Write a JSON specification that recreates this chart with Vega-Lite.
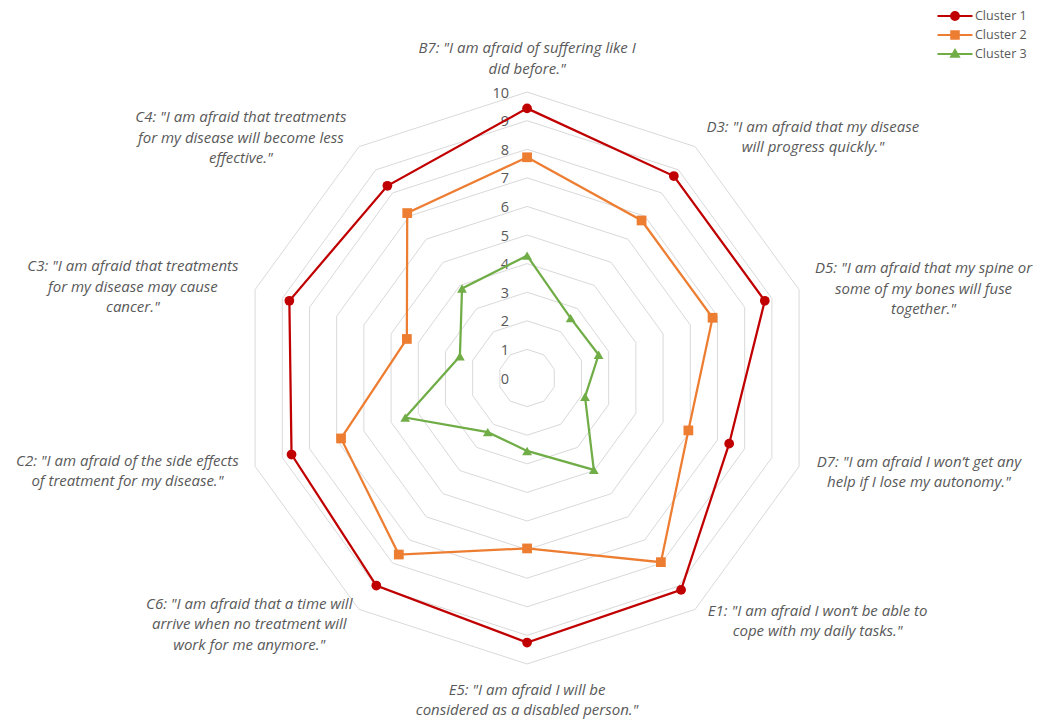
{
  "$schema": "https://vega.github.io/schema/vega-lite/v6.json",
  "width": 1037,
  "height": 720,
  "autosize": {"type": "none"},
  "padding": 0,
  "background": "white",
  "config": {"view": {"stroke": null}, "text": {"font": "Open Sans", "fontStyle": "italic", "fontSize": 15, "lineHeight": 20.5, "color": "#595959", "align": "center", "baseline": "middle"}},
  "datasets": {
    "scores": [
      {"cluster": "Cluster 1", "item": "B7", "k": 0, "value": 9.43},
      {"cluster": "Cluster 1", "item": "D3", "k": 1, "value": 8.73},
      {"cluster": "Cluster 1", "item": "D5", "k": 2, "value": 8.74},
      {"cluster": "Cluster 1", "item": "D7", "k": 3, "value": 7.43},
      {"cluster": "Cluster 1", "item": "E1", "k": 4, "value": 9.16},
      {"cluster": "Cluster 1", "item": "E5", "k": 5, "value": 9.25},
      {"cluster": "Cluster 1", "item": "C6", "k": 6, "value": 8.97},
      {"cluster": "Cluster 1", "item": "C2", "k": 7, "value": 8.66},
      {"cluster": "Cluster 1", "item": "C3", "k": 8, "value": 8.74},
      {"cluster": "Cluster 1", "item": "C4", "k": 9, "value": 8.31},
      {"cluster": "Cluster 2", "item": "B7", "k": 0, "value": 7.72},
      {"cluster": "Cluster 2", "item": "D3", "k": 1, "value": 6.81},
      {"cluster": "Cluster 2", "item": "D5", "k": 2, "value": 6.82},
      {"cluster": "Cluster 2", "item": "D7", "k": 3, "value": 5.93},
      {"cluster": "Cluster 2", "item": "E1", "k": 4, "value": 7.96},
      {"cluster": "Cluster 2", "item": "E5", "k": 5, "value": 5.96},
      {"cluster": "Cluster 2", "item": "C6", "k": 6, "value": 7.63},
      {"cluster": "Cluster 2", "item": "C2", "k": 7, "value": 6.84},
      {"cluster": "Cluster 2", "item": "C3", "k": 8, "value": 4.42},
      {"cluster": "Cluster 2", "item": "C4", "k": 9, "value": 7.13},
      {"cluster": "Cluster 3", "item": "B7", "k": 0, "value": 4.28},
      {"cluster": "Cluster 3", "item": "D3", "k": 1, "value": 2.59},
      {"cluster": "Cluster 3", "item": "D5", "k": 2, "value": 2.63},
      {"cluster": "Cluster 3", "item": "D7", "k": 3, "value": 2.13},
      {"cluster": "Cluster 3", "item": "E1", "k": 4, "value": 3.97},
      {"cluster": "Cluster 3", "item": "E5", "k": 5, "value": 2.55},
      {"cluster": "Cluster 3", "item": "C6", "k": 6, "value": 2.34},
      {"cluster": "Cluster 3", "item": "C2", "k": 7, "value": 4.48},
      {"cluster": "Cluster 3", "item": "C3", "k": 8, "value": 2.47},
      {"cluster": "Cluster 3", "item": "C4", "k": 9, "value": 3.87}
    ],
    "rings": [
      {"level": 1, "k": [0, 1, 2, 3, 4, 5, 6, 7, 8, 9]},
      {"level": 2, "k": [0, 1, 2, 3, 4, 5, 6, 7, 8, 9]},
      {"level": 3, "k": [0, 1, 2, 3, 4, 5, 6, 7, 8, 9]},
      {"level": 4, "k": [0, 1, 2, 3, 4, 5, 6, 7, 8, 9]},
      {"level": 5, "k": [0, 1, 2, 3, 4, 5, 6, 7, 8, 9]},
      {"level": 6, "k": [0, 1, 2, 3, 4, 5, 6, 7, 8, 9]},
      {"level": 7, "k": [0, 1, 2, 3, 4, 5, 6, 7, 8, 9]},
      {"level": 8, "k": [0, 1, 2, 3, 4, 5, 6, 7, 8, 9]},
      {"level": 9, "k": [0, 1, 2, 3, 4, 5, 6, 7, 8, 9]},
      {"level": 10, "k": [0, 1, 2, 3, 4, 5, 6, 7, 8, 9]}
    ],
    "ticks": [
      {"level": 0}, {"level": 1}, {"level": 2}, {"level": 3}, {"level": 4}, {"level": 5},
      {"level": 6}, {"level": 7}, {"level": 8}, {"level": 9}, {"level": 10}
    ],
    "labels": [
      {"item": "B7", "k": 0, "text": ["B7: \"I am afraid of suffering like I", "did before.\""]},
      {"item": "D3", "k": 1, "text": ["D3: \"I am afraid that my disease", "will progress quickly.\""]},
      {"item": "D5", "k": 2, "text": ["D5: \"I am afraid that my spine or", "some of my bones will fuse", "together.\""]},
      {"item": "D7", "k": 3, "text": ["D7: \"I am afraid I won’t get any", "help if I lose my autonomy.\""]},
      {"item": "E1", "k": 4, "text": ["E1: \"I am afraid I won’t be able to", "cope with my daily tasks.\""]},
      {"item": "E5", "k": 5, "text": ["E5: \"I am afraid I will be", "considered as a disabled person.\""]},
      {"item": "C6", "k": 6, "text": ["C6: \"I am afraid that a time will", "arrive when no treatment will", "work for me anymore.\""]},
      {"item": "C2", "k": 7, "text": ["C2: \"I am afraid of the side effects", "of treatment for my disease.\""]},
      {"item": "C3", "k": 8, "text": ["C3: \"I am afraid that treatments", "for my disease may cause", "cancer.\""]},
      {"item": "C4", "k": 9, "text": ["C4: \"I am afraid that treatments", "for my disease will become less", "effective.\""]}
    ]
  },
  "encoding": {
    "x": {"field": "px", "type": "quantitative", "scale": {"domain": [-18.43, 17.83], "nice": false, "zero": false}, "axis": null},
    "y": {"field": "py", "type": "quantitative", "scale": {"domain": [-11.96, 13.22], "nice": false, "zero": false}, "axis": null}
  },
  "layer": [
    {
      "data": {"name": "rings"},
      "transform": [
        {"flatten": ["k"]},
        {"calculate": "datum.level * sin(datum.k * PI / 5)", "as": "px"},
        {"calculate": "datum.level * cos(datum.k * PI / 5)", "as": "py"}
      ],
      "mark": {"type": "line", "interpolate": "linear-closed", "stroke": "#D9D9D9", "strokeWidth": 1},
      "encoding": {"detail": {"field": "level", "type": "nominal"}, "order": {"field": "k", "type": "quantitative"}}
    },
    {
      "data": {"name": "ticks"},
      "transform": [
        {"calculate": "0", "as": "px"},
        {"calculate": "datum.level", "as": "py"}
      ],
      "mark": {"type": "text", "align": "right", "baseline": "middle", "dx": -18, "dy": 1.5, "fontStyle": "normal", "fontSize": 14.5, "color": "#595959"},
      "encoding": {"text": {"field": "level", "type": "nominal"}}
    },
    {
      "data": {"name": "scores"},
      "transform": [
        {"calculate": "datum.value * sin(datum.k * PI / 5)", "as": "px"},
        {"calculate": "datum.value * cos(datum.k * PI / 5)", "as": "py"}
      ],
      "layer": [
        {
          "transform": [{"filter": "datum.cluster == 'Cluster 1'"}],
          "mark": {"type": "line", "interpolate": "linear-closed", "strokeWidth": 2.25, "stroke": "#C00000"},
          "encoding": {"order": {"field": "k", "type": "quantitative"}}
        },
        {
          "transform": [{"filter": "datum.cluster == 'Cluster 2'"}],
          "mark": {"type": "line", "interpolate": "linear-closed", "strokeWidth": 2.25, "stroke": "#ED7D31"},
          "encoding": {"order": {"field": "k", "type": "quantitative"}}
        },
        {
          "transform": [{"filter": "datum.cluster == 'Cluster 3'"}],
          "mark": {"type": "line", "interpolate": "linear-closed", "strokeWidth": 2.25, "stroke": "#70AD47"},
          "encoding": {"order": {"field": "k", "type": "quantitative"}}
        },
        {
          "encoding": {
            "color": {
              "field": "cluster", "type": "nominal",
              "scale": {"domain": ["Cluster 1", "Cluster 2", "Cluster 3"], "range": ["#C00000", "#ED7D31", "#70AD47"]},
              "legend": {
                "title": null,
                "orient": "none",
                "legendX": 948,
                "legendY": 9,
                "symbolSize": 196,
                "symbolStrokeWidth": 0,
                "symbolOpacity": 1,
                "labelFont": "Open Sans",
                "labelFontSize": 12.5,
                "labelColor": "#595959",
                "labelOffset": 13,
                "rowPadding": 5
              }
            }
          },
          "layer": [
            {"transform": [{"filter": "datum.cluster == 'Cluster 1'"}], "mark": {"type": "point", "shape": "circle", "filled": true, "opacity": 1, "size": 95}},
            {"transform": [{"filter": "datum.cluster == 'Cluster 2'"}], "mark": {"type": "point", "shape": "square", "filled": true, "opacity": 1, "size": 95}},
            {"transform": [{"filter": "datum.cluster == 'Cluster 3'"}], "mark": {"type": "point", "shape": "triangle-up", "filled": true, "opacity": 1, "size": 95}},
            {
              "mark": {"type": "point", "filled": true, "opacity": 0, "size": 95},
              "encoding": {
                "shape": {
                  "field": "cluster", "type": "nominal",
                  "scale": {
                    "domain": ["Cluster 1", "Cluster 2", "Cluster 3"],
                    "range": [
                      "M-2.5,-0.16L2.5,-0.16L2.5,0.16L-2.5,0.16Z M0.7,0A0.7,0.7 0 1,1 -0.7,0A0.7,0.7 0 1,1 0.7,0Z",
                      "M-2.5,-0.16L2.5,-0.16L2.5,0.16L-2.5,0.16Z M-0.68,-0.68L0.68,-0.68L0.68,0.68L-0.68,0.68Z",
                      "M-2.5,-0.16L2.5,-0.16L2.5,0.16L-2.5,0.16Z M0,-0.85L0.8,0.55L-0.8,0.55Z"
                    ]
                  },
                  "legend": {
                    "title": null,
                    "orient": "none",
                    "legendX": 948,
                    "legendY": 9,
                    "symbolSize": 196,
                    "symbolStrokeWidth": 0,
                    "symbolOpacity": 1,
                    "labelFont": "Open Sans",
                    "labelFontSize": 12.5,
                    "labelColor": "#595959",
                    "labelOffset": 13,
                    "rowPadding": 5
                  }
                }
              }
            }
          ]
        }
      ]
    },
    {
      "data": {"name": "labels"},
      "transform": [
        {"calculate": "10.4 * sin(datum.k * PI / 5)", "as": "px"},
        {"calculate": "10.4 * cos(datum.k * PI / 5)", "as": "py"}
      ],
      "encoding": {"text": {"field": "text"}},
      "layer": [
        {"transform": [{"filter": "datum.item == 'B7'"}], "mark": {"type": "text", "dy": -32.6}},
        {"transform": [{"filter": "datum.item == 'D3'"}], "mark": {"type": "text", "dx": 111, "dy": -10.7}},
        {"transform": [{"filter": "datum.item == 'D5'"}], "mark": {"type": "text", "dx": 113.6, "dy": -17.8}},
        {"transform": [{"filter": "datum.item == 'D7'"}], "mark": {"type": "text", "dx": 109, "dy": -8.2}},
        {"transform": [{"filter": "datum.item == 'E1'"}], "mark": {"type": "text", "dx": 115.7, "dy": -7.9}},
        {"transform": [{"filter": "datum.item == 'E5'"}], "mark": {"type": "text", "dy": 14.6}},
        {"transform": [{"filter": "datum.item == 'C6'"}], "mark": {"type": "text", "dx": -103, "dy": -14.6}},
        {"transform": [{"filter": "datum.item == 'C2'"}], "mark": {"type": "text", "dx": -116.8, "dy": -9.2}},
        {"transform": [{"filter": "datum.item == 'C3'"}], "mark": {"type": "text", "dx": -111.3, "dy": -20.1}},
        {"transform": [{"filter": "datum.item == 'C4'"}], "mark": {"type": "text", "dx": -111.4, "dy": -20.1}}
      ]
    }
  ]
}
